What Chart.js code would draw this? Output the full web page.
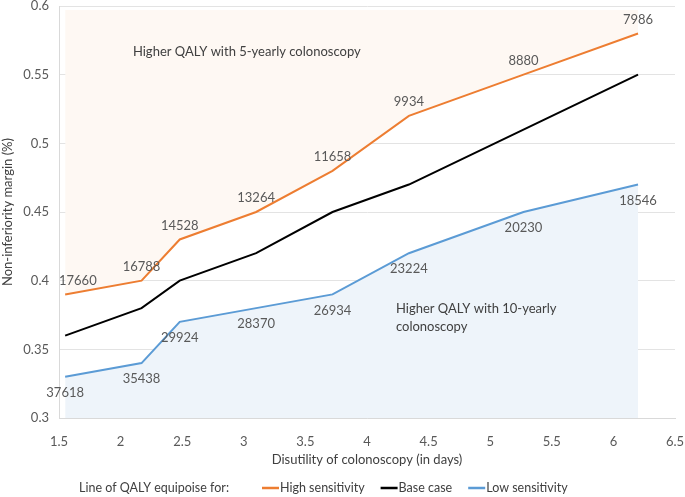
<!DOCTYPE html>
<html>
<head>
<meta charset="utf-8">
<script src="https://cdn.jsdelivr.net/npm/chart.js@4/dist/chart.umd.min.js"></script>
<style>
  body { margin: 0; background: #fff; }
</style>
</head>
<body>
<canvas id="myChart" width="685" height="497"></canvas>
<script>
// disutility in days (x) and non-inferiority margin (y)
const disutility = [1.55, 2.17, 2.48, 3.1, 3.72, 4.34, 5.27, 6.2];
const highSens = [0.39, 0.40, 0.43, 0.45, 0.48, 0.52, 0.55, 0.58];
const baseCase = [0.36, 0.38, 0.40, 0.42, 0.45, 0.47, 0.51, 0.55];
const lowSens = [0.33, 0.34, 0.37, 0.38, 0.39, 0.42, 0.45, 0.47];
const highLabels = [17660, 16788, 14528, 13264, 11658, 9934, 8880, 7986];
const lowLabels = [37618, 35438, 29924, 28370, 26934, 23224, 20230, 18546];
const seriesNames = ["High sensitivity", "Base case", "Low sensitivity"];

const FONT = "Lato, 'Open Sans', sans-serif";

function pts(ys) {
  return disutility.map((x, i) => ({ x: x, y: ys[i] }));
}

function fmt(v) {
  return String(+Number(v).toFixed(2));
}

// point labels, region notes and the legend line at the bottom
const extras = {
  id: "extras",
  afterDatasetsDraw(chart) {
    const ctx = chart.ctx;
    const area = chart.chartArea;
    ctx.save();
    ctx.font = "13px " + FONT;
    ctx.fillStyle = "#595959";
    ctx.textAlign = "center";
    ctx.textBaseline = "middle";

    const hi = chart.getDatasetMeta(0).data;
    hi.forEach((p, i) => {
      const txt = String(highLabels[i]);
      const w = ctx.measureText(txt).width;
      let x = p.x;
      if (x - w / 2 < area.left) x = area.left + w / 2;
      ctx.fillText(txt, x, p.y - 14);
    });
    const lo = chart.getDatasetMeta(2).data;
    lo.forEach((p, i) => {
      ctx.fillText(String(lowLabels[i]), p.x, p.y + 16);
    });

    // region notes
    ctx.fillStyle = "#404040";
    ctx.textAlign = "left";
    const xs = chart.scales.x, ys = chart.scales.y;
    ctx.fillText("Higher QALY with 5-yearly colonoscopy", xs.getPixelForValue(2.1), ys.getPixelForValue(0.567));
    ctx.fillText("Higher QALY with 10-yearly", xs.getPixelForValue(4.235), ys.getPixelForValue(0.3795));
    ctx.fillText("colonoscopy", xs.getPixelForValue(4.235), ys.getPixelForValue(0.3665));

    // legend
    const ly = 488;
    ctx.font = "12.5px " + FONT;
    ctx.fillStyle = "#404040";
    let lx = 79;
    ctx.fillText("Line of QALY equipoise for:", lx, ly);
    lx = 262;
    chart.data.datasets.forEach((ds) => {
      ctx.strokeStyle = ds.borderColor;
      ctx.lineWidth = 2.5;
      ctx.beginPath();
      ctx.moveTo(lx, ly);
      ctx.lineTo(lx + 17, ly);
      ctx.stroke();
      ctx.fillText(ds.label, lx + 18, ly);
      lx += 18 + ctx.measureText(ds.label).width + 16;
    });
    ctx.restore();
  }
};

const ctx = document.getElementById("myChart").getContext("2d");
const chart = new Chart(ctx, {
  type: "line",
  data: {
    datasets: [
      {
        label: seriesNames[0],
        data: pts(highSens),
        borderColor: "#ED7D31",
        backgroundColor: "#fef8f3",
        borderWidth: 2,
        pointRadius: 0,
        fill: { value: 0.597 },
        tension: 0
      },
      {
        label: seriesNames[1],
        data: pts(baseCase),
        borderColor: "#000000",
        borderWidth: 2,
        pointRadius: 0,
        fill: false,
        tension: 0
      },
      {
        label: seriesNames[2],
        data: pts(lowSens),
        borderColor: "#5B9BD5",
        backgroundColor: "#eef4fa",
        borderWidth: 2,
        pointRadius: 0,
        fill: "start",
        tension: 0
      }
    ]
  },
  options: {
    responsive: false,
    animation: false,
    layout: { padding: { top: 6, right: 10, bottom: 25, left: 0 } },
    plugins: {
      legend: { display: false },
      tooltip: { enabled: false }
    },
    scales: {
      x: {
        type: "linear",
        min: 1.5,
        max: 6.5,
        ticks: { stepSize: 0.5, color: "#595959", font: { family: FONT, size: 13 }, padding: 8, callback: fmt },
        grid: { display: false },
        border: { display: true, color: "#d9d9d9" },
        title: { display: true, text: "Disutility of colonoscopy (in days)", color: "#404040", font: { family: FONT, size: 13 }, padding: { top: 9 } },
        afterFit(s) { s.height = 54; s.paddingRight = 0; s.paddingLeft = 0; }
      },
      y: {
        min: 0.3,
        max: 0.6,
        ticks: { stepSize: 0.05, color: "#595959", font: { family: FONT, size: 13 }, padding: 10, callback: fmt },
        grid: { color: "#e3e3e3", drawTicks: false },
        border: { display: true, color: "#d9d9d9" },
        title: { display: true, text: "Non-inferiority margin (%)", color: "#404040", font: { family: FONT, size: 13 }, padding: 0 },
        afterFit(s) { s.width = 59; s.paddingTop = 0; s.paddingBottom = 0; }
      }
    }
  },
  plugins: [extras]
});
</script>
</body>
</html>
